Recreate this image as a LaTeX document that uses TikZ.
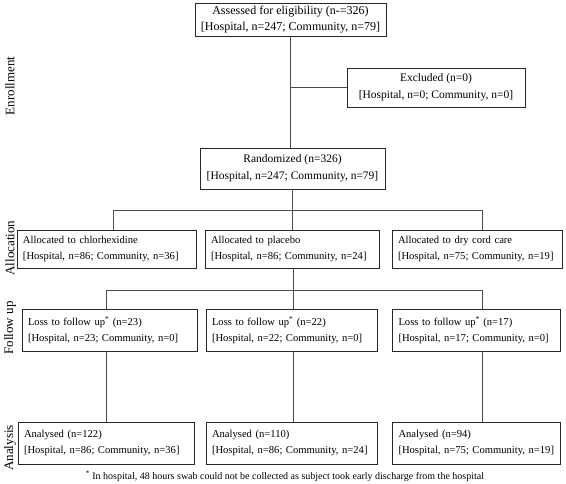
\documentclass[tikz,border=0pt]{standalone}
\usepackage{fontspec}
\setmainfont{Liberation Serif}
\usetikzlibrary{calc}
\begin{document}
\begin{tikzpicture}[x=1pt,y=-1pt,
  every node/.style={font=\fontsize{10.6}{16.5}\selectfont},
  cbox/.style={draw=black!85, line width=0.9pt, align=center, minimum width=#1, inner sep=0pt, minimum height=38, font=\fontsize{11.5}{17}\selectfont},
  lbox/.style={draw=black!85, line width=0.9pt, align=left, text width=#1-12, inner xsep=6pt, inner ysep=0pt, minimum height=40},
  link/.style={draw=black!70, line width=0.9pt},
  stage/.style={rotate=90, inner sep=0pt, font=\fontsize{13}{15}\selectfont}]
\useasboundingbox (0,0) rectangle (566,484);
\node[cbox=191, minimum height=33, font=\fontsize{12}{16.5}\selectfont] (assess) at (290.5,19.5) {Assessed for eligibility (n-=326)\\{}[Hospital, n=247; Community, n=79]};
\node[cbox=178, minimum height=39] (excl) at (436,87.5) {Excluded (n=0)\\{}[Hospital, n=0; Community, n=0]};
\node[cbox=185, minimum height=41] (rand) at (292.5,168.5) {Randomized (n=326)\\{}[Hospital, n=247; Community, n=79]};
\node[lbox=179, minimum height=38] (allocA) at (106.5,249) {Allocated to chlorhexidine\\{}[Hospital, n=86; Community, n=36]};
\node[lbox=174, minimum height=38] (allocB) at (292,249) {Allocated to placebo\\{}[Hospital, n=86; Community, n=24]};
\node[lbox=170, minimum height=38] (allocC) at (477,249) {Allocated to dry cord care\\\mbox{[Hospital, n=75; Community, n=19]}};
\node[lbox=175, minimum height=42] (lossA) at (109.5,330) {Loss to follow up\textsuperscript{*} (n=23)\\{}[Hospital, n=23; Community, n=0]};
\node[lbox=171, minimum height=42] (lossB) at (291.5,330) {Loss to follow up\textsuperscript{*} (n=22)\\{}[Hospital, n=22; Community, n=0]};
\node[lbox=168, minimum height=42] (lossC) at (476.5,330) {Loss to follow up\textsuperscript{*} (n=17)\\{}[Hospital, n=17; Community, n=0]};
\node[lbox=176, minimum height=42] (anaA) at (106,443) {Analysed (n=122)\\{}[Hospital, n=86; Community, n=36]};
\node[lbox=171, minimum height=42] (anaB) at (291.5,443) {Analysed (n=110)\\{}[Hospital, n=86; Community, n=24]};
\node[lbox=168, minimum height=42] (anaC) at (476.5,443) {Analysed (n=94)\\\mbox{[Hospital, n=75; Community, n=19]}};
\node[stage] (enrol) at (10,86) {Enrollment};
\node[stage] (alloc) at (10,248) {Allocation};
\node[stage] (follow) at (10,328) {Follow up};
\node[stage] (analysis) at (10,448) {Analysis};
\node[font=\fontsize{10}{12}\selectfont] (note) at (285,476) {\textsuperscript{*} In hospital, 48 hours swab could not be collected as subject took early discharge from the hospital};
% junctions
\coordinate (barAL) at (113,210);
\coordinate (barAR) at (482,210);
\coordinate (barBL) at (106,290);
\coordinate (barBR) at (482,290);
\draw[link] (assess.south -| 290,0) -- (rand.north -| 290,0);
\draw[link] (excl.west -| 290,0) -- (excl.west);
\draw[link] (rand.south) -- (rand.south |- barAL);
\draw[link] (barAL) -- (barAR);
\draw[link] (barAL) -- (barAL |- allocA.north);
\draw[link] (rand.south |- barAL) -- (rand.south |- allocB.north);
\draw[link] (barAR) -- (barAR |- allocC.north);
\draw[link] (allocB.south -| 293,0) -- (barBL -| 293,0);
\draw[link] (barBL) -- (barBR);
\draw[link] (barBL) -- (barBL |- lossA.north);
\draw[link] (barBL -| 293,0) -- (lossB.north -| 293,0);
\draw[link] (barBR) -- (barBR |- lossC.north);
\draw[link] (lossA.south -| barBL) -- (anaA.north -| barBL);
\draw[link] (lossB.south -| 293,0) -- (anaB.north -| 293,0);
\draw[link] (lossC.south -| barBR) -- (anaC.north -| barBR);
\end{tikzpicture}
\end{document}
